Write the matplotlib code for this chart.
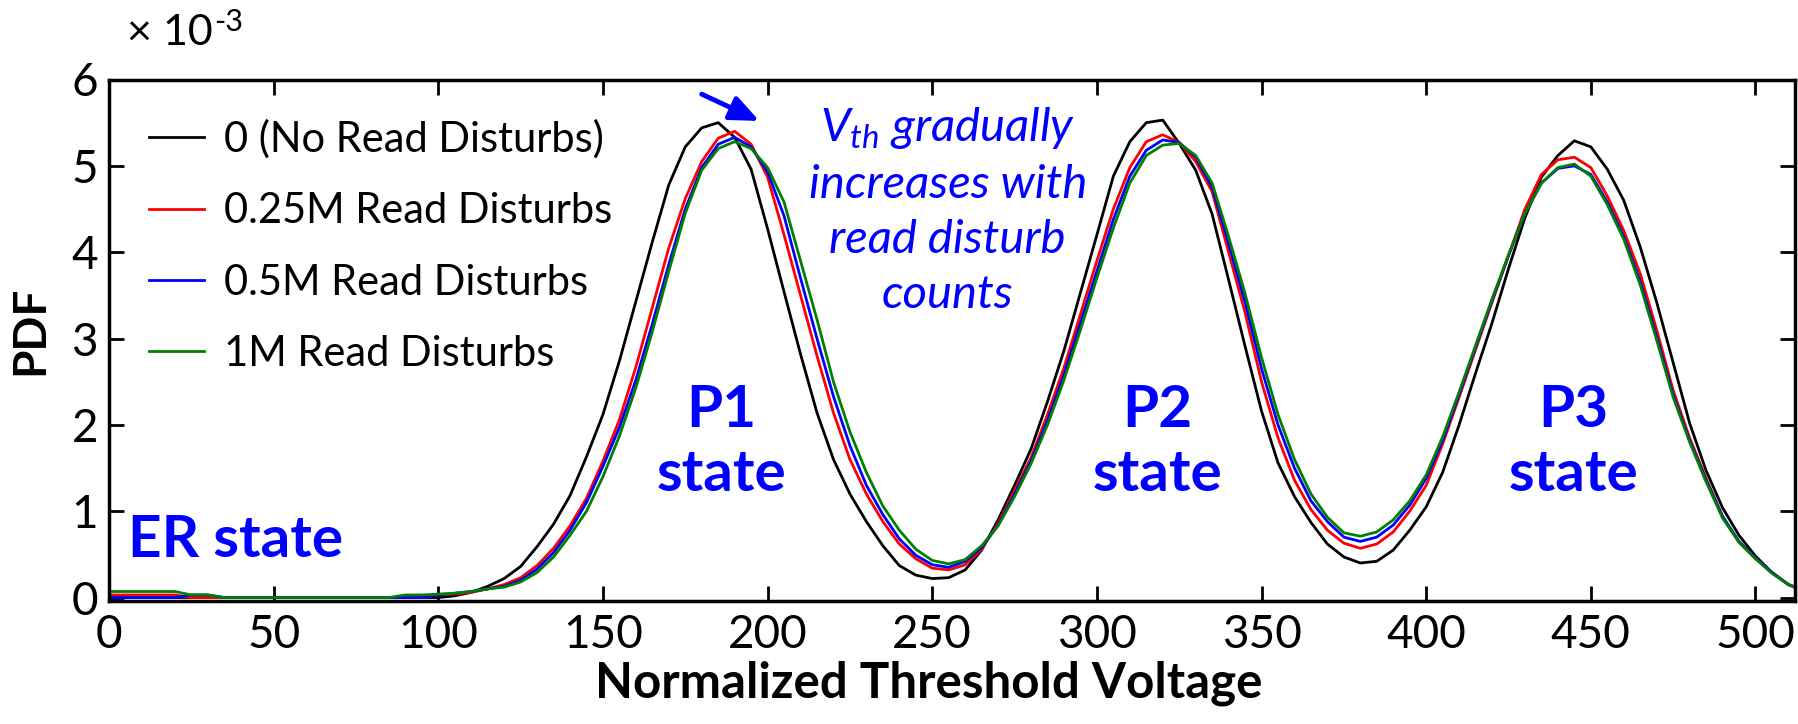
import matplotlib
matplotlib.use('Agg')
import matplotlib.pyplot as plt

plt.rcParams['font.family'] = ['Lato', 'DejaVu Sans']
plt.rcParams['mathtext.fontset'] = 'custom'
plt.rcParams['mathtext.it'] = 'Lato:italic'
plt.rcParams['mathtext.rm'] = 'Lato'

# normalized threshold voltage (read every 5 steps), PDF values in units of 1e-3
volt = list(range(0, 511, 5)) + [512]

pdf_0 = [0, 0, 0, 0, 0, 0, 0, 0, 0, 0,
         0, 0, 0, 0, 0, 0, 0, 0, 0, 0,
         0.00, 0.02, 0.06, 0.13, 0.22, 0.36, 0.59, 0.85, 1.18, 1.63,
         2.12, 2.74, 3.43, 4.12, 4.78, 5.22, 5.44, 5.50, 5.33, 4.96,
         4.27, 3.54, 2.82, 2.14, 1.60, 1.20, 0.88, 0.60, 0.37, 0.26,
         0.22, 0.23, 0.32, 0.55, 0.90, 1.30, 1.72, 2.27, 2.86, 3.53,
         4.20, 4.88, 5.28, 5.50, 5.53, 5.26, 4.95, 4.44, 3.68, 2.91,
         2.16, 1.56, 1.17, 0.87, 0.62, 0.47, 0.40, 0.42, 0.55, 0.78,
         1.05, 1.45, 2.00, 2.60, 3.18, 3.81, 4.40, 4.87, 5.12, 5.29,
         5.22, 4.96, 4.60, 4.06, 3.42, 2.72, 2.02, 1.47, 1.04, 0.72,
         0.48, 0.29, 0.15, 0.12]

pdf_025m = [0.03, 0.03, 0.03, 0.03, 0.03, 0, 0, 0, 0, 0,
            0, 0, 0, 0, 0, 0, 0, 0, 0, 0,
            0.03, 0.04, 0.06, 0.10, 0.15, 0.23, 0.37, 0.57, 0.83, 1.15,
            1.58, 2.06, 2.67, 3.36, 4.05, 4.62, 5.05, 5.32, 5.40, 5.25,
            4.87, 4.20, 3.50, 2.80, 2.14, 1.60, 1.20, 0.88, 0.62, 0.45,
            0.34, 0.32, 0.38, 0.56, 0.86, 1.24, 1.62, 2.12, 2.66, 3.28,
            3.90, 4.50, 4.98, 5.28, 5.36, 5.27, 5.05, 4.70, 4.00, 3.30,
            2.50, 1.85, 1.36, 1.02, 0.78, 0.63, 0.57, 0.62, 0.76, 1.00,
            1.30, 1.78, 2.32, 2.87, 3.42, 3.96, 4.50, 4.90, 5.07, 5.10,
            4.98, 4.65, 4.25, 3.75, 3.10, 2.40, 1.85, 1.38, 0.94, 0.64,
            0.45, 0.29, 0.15, 0.12]

pdf_05m = [0, 0, 0, 0, 0, 0.03, 0.03, 0, 0, 0,
           0, 0, 0, 0, 0, 0, 0, 0, 0, 0,
           0.03, 0.05, 0.07, 0.10, 0.13, 0.20, 0.33, 0.52, 0.78, 1.10,
           1.52, 1.97, 2.52, 3.17, 3.86, 4.50, 4.98, 5.25, 5.33, 5.22,
           4.93, 4.42, 3.70, 3.00, 2.33, 1.76, 1.30, 0.96, 0.68, 0.49,
           0.38, 0.35, 0.42, 0.58, 0.84, 1.20, 1.58, 2.05, 2.58, 3.18,
           3.78, 4.38, 4.88, 5.18, 5.30, 5.27, 5.10, 4.75, 4.10, 3.42,
           2.65, 2.00, 1.50, 1.12, 0.88, 0.70, 0.65, 0.70, 0.84, 1.07,
           1.38, 1.82, 2.35, 2.90, 3.44, 3.96, 4.45, 4.80, 4.97, 5.00,
           4.90, 4.58, 4.18, 3.66, 3.02, 2.35, 1.82, 1.36, 0.94, 0.65,
           0.46, 0.29, 0.15, 0.12]

pdf_1m = [0.07, 0.07, 0.07, 0.07, 0.07, 0.03, 0.03, 0, 0, 0,
          0, 0, 0, 0, 0, 0, 0, 0, 0.03, 0.03,
          0.04, 0.05, 0.07, 0.10, 0.12, 0.18, 0.29, 0.47, 0.72, 1.00,
          1.40, 1.87, 2.43, 3.08, 3.78, 4.45, 4.95, 5.20, 5.28, 5.20,
          4.98, 4.58, 3.90, 3.22, 2.50, 1.92, 1.45, 1.06, 0.78, 0.56,
          0.43, 0.39, 0.44, 0.60, 0.83, 1.17, 1.55, 2.00, 2.52, 3.10,
          3.70, 4.28, 4.80, 5.12, 5.24, 5.26, 5.12, 4.80, 4.18, 3.52,
          2.78, 2.12, 1.60, 1.20, 0.93, 0.75, 0.71, 0.76, 0.90, 1.12,
          1.42, 1.86, 2.38, 2.92, 3.46, 3.97, 4.45, 4.80, 4.98, 5.02,
          4.88, 4.55, 4.15, 3.62, 2.98, 2.32, 1.80, 1.34, 0.92, 0.64,
          0.45, 0.28, 0.15, 0.12]

series = [(pdf_0, 'black', '0 (No Read Disturbs)'),
          (pdf_025m, '#ff0000', '0.25M Read Disturbs'),
          (pdf_05m, '#0000ff', '0.5M Read Disturbs'),
          (pdf_1m, '#008000', '1M Read Disturbs')]

fig = plt.figure(figsize=(17.98, 7.24), dpi=100)
ax = fig.add_axes([109 / 1798, 123 / 724, 1686 / 1798, 521.5 / 724])

for vals, col, lab in series:
    ax.plot(volt, vals, color=col, lw=2, label=lab)

ax.set_xlim(0, 512)
ax.set_ylim(-0.04, 6)
ax.set_xticks(range(0, 501, 50))
ax.set_yticks(range(0, 7))
ax.tick_params(direction='in', length=11, width=2, top=True, right=True,
               labelsize=33)
ax.tick_params(axis='x', pad=9)
ax.tick_params(axis='y', pad=8)
for sp in ax.spines.values():
    sp.set_linewidth(2.5)

ax.set_xlabel('Normalized Threshold Voltage', fontsize=35.5, fontweight='bold')
ax.xaxis.set_label_coords(0.486, -0.115)
ax.set_ylabel('PDF', fontsize=33, fontweight='bold')
ax.yaxis.set_label_coords(-0.034, 0.52)

# multiplier note, exponent placed right after the "10"
t10 = fig.text(127 / 1798, 1 - 45 / 724, '\u00d7 10', fontsize=31, va='baseline')
fig.canvas.draw()
bb = t10.get_window_extent()
fig.text((bb.x1 + 1) / fig.bbox.width, 1 - 31 / 724, '-3', fontsize=22,
         va='baseline')

ax.legend(loc='upper left', bbox_to_anchor=(0.024, 0.923), frameon=False,
          fontsize=30, handlelength=1.3, handletextpad=0.5, labelspacing=0.8,
          borderpad=0, borderaxespad=0)

blue = '#0000ff'
ax.text(38.3, 0.655, 'ER state', color=blue, fontsize=42, fontweight='bold',
        ha='center', va='center')
for xc, name in [(186, 'P1'), (318.5, 'P2'), (444.8, 'P3')]:
    ax.text(xc, 1.8, name + '\nstate', color=blue, fontsize=42,
            fontweight='bold', ha='center', va='center', linespacing=1.25)

ax.text(254.7, 5.70, '$V_{th}$ gradually\nincreases with\nread disturb\ncounts',
        color=blue, fontsize=34, style='italic', ha='center', va='top',
        linespacing=1.38)

ax.annotate('', xy=(197.5, 5.52), xytext=(180, 5.83),
            arrowprops=dict(arrowstyle='-|>,head_length=0.7,head_width=0.3',
                            color=blue, lw=3.5, mutation_scale=25,
                            shrinkA=0, shrinkB=0))

fig.savefig('out.png', dpi=100)
